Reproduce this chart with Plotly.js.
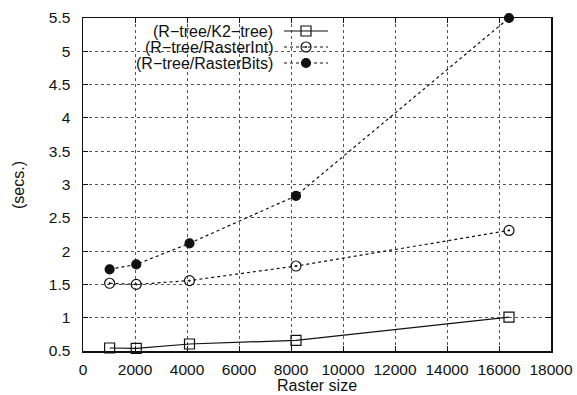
<!DOCTYPE html>
<html>
<head>
<meta charset="utf-8">
<script src="https://cdn.plot.ly/plotly-3.0.1.min.js"></script>
<style>html,body{margin:0;padding:0;background:#fff}#chart{width:577px;height:395px}</style>
</head>
<body>
<div id="chart"></div>
<script>
const rasterSizes = [1024, 2048, 4096, 8192, 16384];
const k2tree = [0.545, 0.54, 0.605, 0.66, 1.01];
const rasterInt = [1.517, 1.50, 1.557, 1.776, 2.31];
const rasterBits = [1.727, 1.80, 2.117, 2.83, 5.5];
const seriesNames = ['(R\u2212tree/K2\u2212tree)', '(R\u2212tree/RasterInt)', '(R\u2212tree/RasterBits)'];
const xTicks = [0, 2000, 4000, 6000, 8000, 10000, 12000, 14000, 16000, 18000];
const yTicks = [0.5, 1, 1.5, 2, 2.5, 3, 3.5, 4, 4.5, 5, 5.5];
const xTitle = 'Raster size';
const yTitle = '(secs.)';

const FONT = '"Liberation Sans", Arial, sans-serif';
const INK = '#111';
const styles = [
  {symbol: 'square-open', size: 10, dash: 'solid', width: 1.2},
  {symbol: 'circle-open-dot', size: 10, dash: 'dot', width: 1.2},
  {symbol: 'circle', size: 9, dash: 'dot', width: 1.2}
];
const seriesVals = [k2tree, rasterInt, rasterBits];

const traces = seriesVals.map((v, i) => ({
  x: rasterSizes, y: v, type: 'scatter', mode: 'lines+markers',
  name: seriesNames[i], showlegend: false,
  line: {color: INK, width: styles[i].width, dash: styles[i].dash},
  marker: {symbol: styles[i].symbol, size: styles[i].size, color: INK, line: {color: INK, width: 1.2}},
  cliponaxis: false
}));

// Gnuplot-style key: text on the left, sample on the right (pixel overlay axes)
const keyRowY = [31, 47, 63];
const keyTextRight = 275, keyLineX0 = 284, keyLineX1 = 328, keyMarkX = 306;
const annotations = [];
seriesNames.forEach((n, i) => {
  traces.push({
    x: [keyLineX0, keyLineX1], y: [keyRowY[i], keyRowY[i]], xaxis: 'x2', yaxis: 'y2',
    type: 'scatter', mode: 'lines', showlegend: false, hoverinfo: 'skip',
    line: {color: INK, width: styles[i].width, dash: styles[i].dash}
  });
  traces.push({
    x: [keyMarkX], y: [keyRowY[i]], xaxis: 'x2', yaxis: 'y2',
    type: 'scatter', mode: 'markers', showlegend: false, hoverinfo: 'skip',
    marker: {symbol: styles[i].symbol, size: styles[i].size, color: INK, line: {color: INK, width: 1.2}}
  });
  annotations.push({
    xref: 'x2', yref: 'y2', x: keyTextRight, y: keyRowY[i], text: n, showarrow: false,
    xanchor: 'right', yanchor: 'middle', font: {family: FONT, size: 16, color: INK}
  });
});
// axis titles placed like gnuplot's
annotations.push({
  xref: 'paper', yref: 'paper', x: 0.5, y: -(385 - 351) / 333, text: xTitle, showarrow: false,
  xanchor: 'center', yanchor: 'middle', font: {family: FONT, size: 16, color: INK}
});
annotations.push({
  xref: 'paper', yref: 'paper', x: (18 - 83) / 468, y: (351 - 185) / 333, text: yTitle, showarrow: false,
  textangle: -90, xanchor: 'center', yanchor: 'middle', font: {family: FONT, size: 16, color: INK}
});

const layout = {
  width: 577, height: 395,
  margin: {l: 83, r: 26, t: 18, b: 44},
  paper_bgcolor: '#fff', plot_bgcolor: '#fff',
  showlegend: false,
  font: {family: FONT, size: 15.5, color: INK},
  xaxis: {
    range: [0, 18000], tickvals: xTicks, ticktext: xTicks.map(String),
    showline: true, linecolor: INK, linewidth: 1.5, mirror: 'ticks',
    ticks: 'inside', ticklen: 5, tickcolor: INK, tickwidth: 1,
    showgrid: true, gridcolor: '#555', gridwidth: 1, griddash: 'dot',
    zeroline: false, ticklabelstandoff: 4
  },
  yaxis: {
    range: [0.5, 5.5], tickvals: yTicks, ticktext: yTicks.map(String),
    showline: true, linecolor: INK, linewidth: 1.5, mirror: 'ticks',
    ticks: 'inside', ticklen: 5, tickcolor: INK, tickwidth: 1,
    showgrid: true, gridcolor: '#555', gridwidth: 1, griddash: 'dot',
    zeroline: false, ticklabelstandoff: 8
  },
  xaxis2: {overlaying: 'x', range: [83, 551], visible: false, fixedrange: true},
  yaxis2: {overlaying: 'y', range: [351, 18], visible: false, fixedrange: true},
  shapes: [{
    type: 'rect', xref: 'paper', yref: 'paper', x0: 0, x1: (335 - 83) / 468, y0: (351 - 72) / 333, y1: 1,
    fillcolor: '#fff', line: {width: 0}, layer: 'between'
  }],
  annotations: annotations
};

Plotly.newPlot('chart', traces, layout, {staticPlot: true, displayModeBar: false});
</script>
</body>
</html>
